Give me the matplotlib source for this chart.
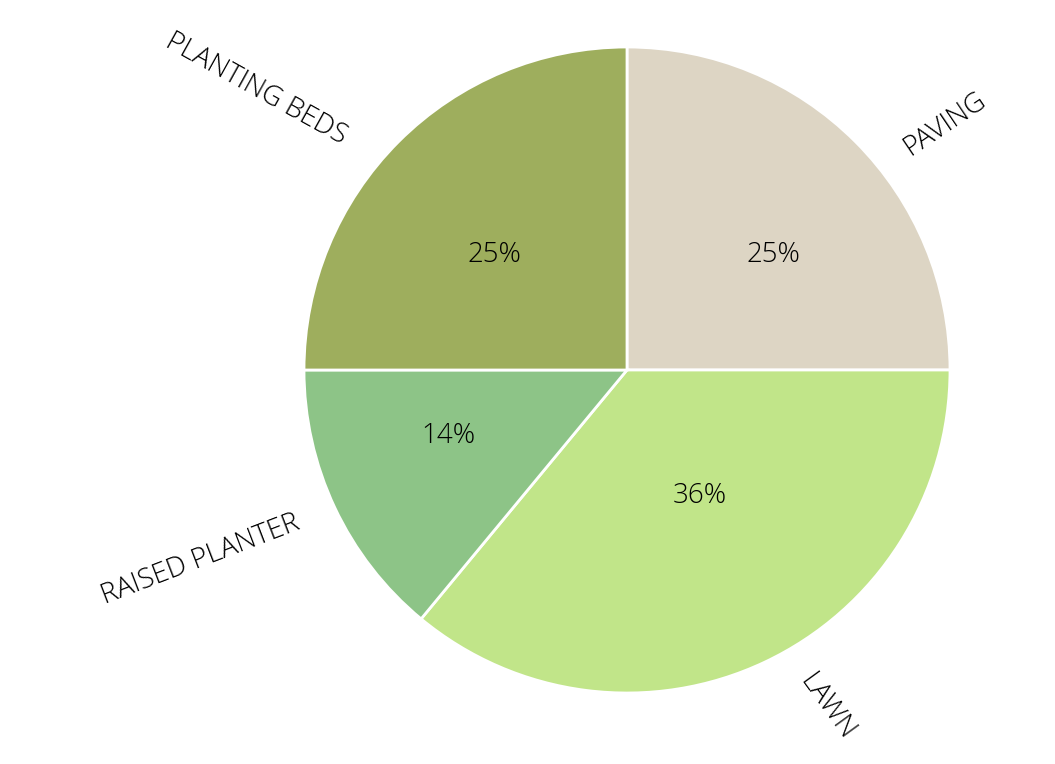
import numpy as np
import matplotlib.pyplot as plt

labels = ["PAVING", "LAWN", "RAISED PLANTER", "PLANTING BEDS"]
shares = [25, 36, 14, 25]
colors = ["#ddd5c4", "#c1e589", "#8dc487", "#9eae5d"]

# placement tweaks for the outer labels and the percentages (style only)
label_shift = [-7.5, 4.0, -2.0, 6.5]     # degrees off the wedge middle
label_dist = [1.06, 1.06, 1.09, 1.09]
label_rot = [34, -54, 21, -29]
pct_shift = [-7.0, 5.0, -5.0, 4.0]
pct_dist = [0.576, 0.45, 0.59, 0.545]

plt.rcParams["font.family"] = ["Open Sans", "DejaVu Sans"]

fig = plt.figure(figsize=(10.55, 7.64), dpi=100)
# pie centre at (627, 370) px, radius about 323 px
ax = fig.add_axes([(627 - 323) / 1055, (764 - 370 - 323) / 764, 646 / 1055, 646 / 764])

wedges, texts, autotexts = ax.pie(
    shares,
    labels=labels,
    colors=colors,
    startangle=90,
    counterclock=False,
    autopct="%d%%",
    labeldistance=1.06,
    rotatelabels=True,
    wedgeprops=dict(edgecolor="white", linewidth=2),
    textprops=dict(fontsize=20, color="#000000", fontweight="light"),
)

for i, w in enumerate(wedges):
    mid = (w.theta1 + w.theta2) / 2
    a = np.deg2rad(mid + label_shift[i])
    texts[i].set_position((label_dist[i] * np.cos(a), label_dist[i] * np.sin(a)))
    texts[i].set_rotation(label_rot[i])
    b = np.deg2rad(mid + pct_shift[i])
    autotexts[i].set_position((pct_dist[i] * np.cos(b), pct_dist[i] * np.sin(b)))
    autotexts[i].set_fontsize(20)

ax.set_xlim(-1, 1)
ax.set_ylim(-1, 1)
ax.set_aspect("equal")
fig.savefig("out.png", dpi=100)
